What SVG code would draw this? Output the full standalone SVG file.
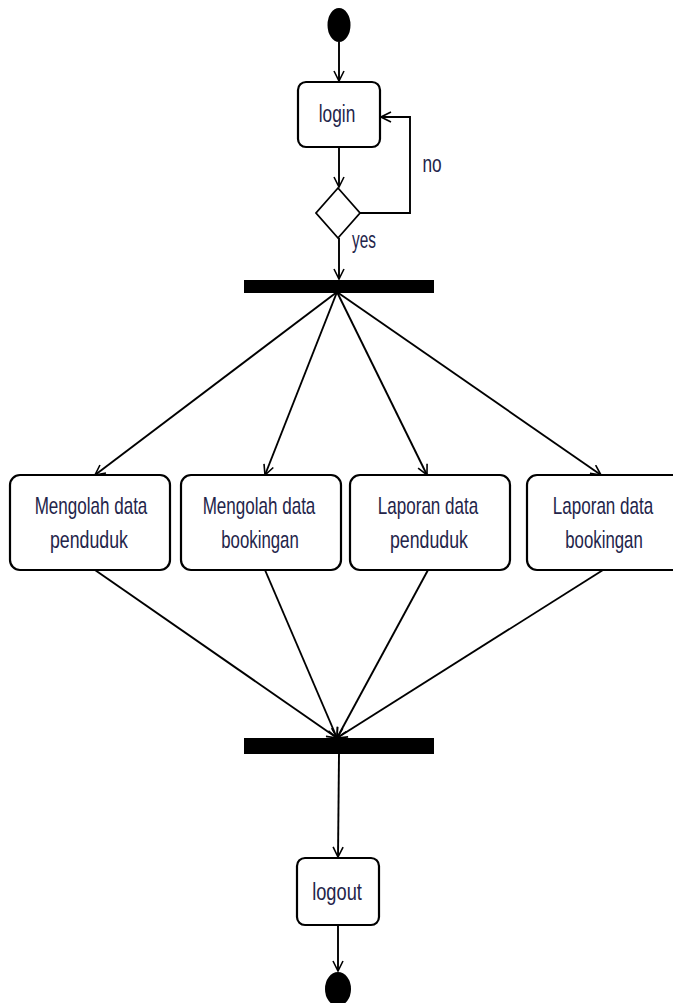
<svg xmlns="http://www.w3.org/2000/svg" width="673" height="1003" viewBox="0 0 673 1003">
  <defs>
    <marker id="open" viewBox="0 0 12 12" refX="11" refY="6" markerWidth="12" markerHeight="12" markerUnits="userSpaceOnUse" orient="auto">
      <path d="M1,1 L11,6 L1,11" fill="none" stroke="#000" stroke-width="1.6"/>
    </marker>
  </defs>
  <style>
    .act { fill: #fff; stroke: #000; stroke-width: 2.2; }
    .bar { fill: #000; }
    .lbl { font-family: "Liberation Sans", Arial, sans-serif; font-size: 24px; fill: #23244a; text-anchor: middle; }
    .edge { fill: none; stroke: #000; stroke-width: 1.9; marker-end: url(#open); }
  </style>
  <rect width="673" height="1003" fill="#fff"/>

  <!-- connectors -->
  <g id="connectors">
    <line class="edge" x1="339" y1="42" x2="339" y2="81"/>
    <line class="edge" x1="339" y1="147" x2="339" y2="187"/>
    <polyline class="edge" points="360,213 410,213 410,117 381,117"/>
    <line class="edge" x1="339" y1="238" x2="339" y2="279"/>
    <line class="edge" x1="337" y1="292" x2="95" y2="475"/>
    <line class="edge" x1="337" y1="292" x2="265" y2="475"/>
    <line class="edge" x1="337" y1="292" x2="427" y2="475"/>
    <line class="edge" x1="337" y1="292" x2="601" y2="475"/>
    <line class="edge" x1="95" y1="570" x2="337" y2="738"/>
    <line class="edge" x1="265" y1="570" x2="337" y2="738"/>
    <line class="edge" x1="428" y1="570" x2="337" y2="738"/>
    <line class="edge" x1="603" y1="570" x2="337" y2="738"/>
    <line class="edge" x1="339" y1="754" x2="338" y2="857"/>
    <line class="edge" x1="338" y1="925" x2="338" y2="971"/>
  </g>

  <g id="start">
    <ellipse cx="339" cy="25" rx="11.5" ry="17" fill="#000"/>
  </g>

  <!-- labels use a narrowed Liberation Sans (scale 0.72 horizontally) -->
  <g id="login">
    <rect class="act" x="298" y="82" width="82" height="65" rx="8"/>
    <text class="lbl" transform="translate(337,122) scale(0.72,1)">login</text>
  </g>

  <g id="decision">
    <polygon points="338,188 360,213 338,238 316,213" fill="#fff" stroke="#000" stroke-width="1.8"/>
    <text class="lbl" transform="translate(432,172) scale(0.72,1)">no</text>
    <text class="lbl" transform="translate(364,248) scale(0.64,1)">yes</text>
  </g>

  <g id="fork">
    <rect class="bar" x="244" y="280" width="190" height="13"/>
  </g>

  <g id="mengolah-penduduk">
    <rect class="act" x="10" y="475" width="160" height="95" rx="10"/>
    <text class="lbl" transform="translate(91,514) scale(0.71,1)">Mengolah data</text>
    <text class="lbl" transform="translate(89,548) scale(0.74,1)">penduduk</text>
  </g>

  <g id="mengolah-bookingan">
    <rect class="act" x="181" y="475" width="160" height="95" rx="10"/>
    <text class="lbl" transform="translate(259,514) scale(0.71,1)">Mengolah data</text>
    <text class="lbl" transform="translate(260,548) scale(0.70,1)">bookingan</text>
  </g>

  <g id="laporan-penduduk">
    <rect class="act" x="350" y="475" width="160" height="95" rx="10"/>
    <text class="lbl" transform="translate(428,514) scale(0.71,1)">Laporan data</text>
    <text class="lbl" transform="translate(429,548) scale(0.74,1)">penduduk</text>
  </g>

  <g id="laporan-bookingan">
    <rect class="act" x="527" y="475" width="160" height="95" rx="10"/>
    <text class="lbl" transform="translate(603,514) scale(0.71,1)">Laporan data</text>
    <text class="lbl" transform="translate(604,548) scale(0.70,1)">bookingan</text>
  </g>

  <g id="join">
    <rect class="bar" x="244" y="738" width="190" height="16"/>
  </g>

  <g id="logout">
    <rect class="act" x="297" y="858" width="82" height="67" rx="8"/>
    <text class="lbl" transform="translate(337,900) scale(0.76,1)">logout</text>
  </g>

  <g id="end">
    <ellipse cx="338" cy="989" rx="13" ry="17" fill="#000"/>
  </g>
</svg>
